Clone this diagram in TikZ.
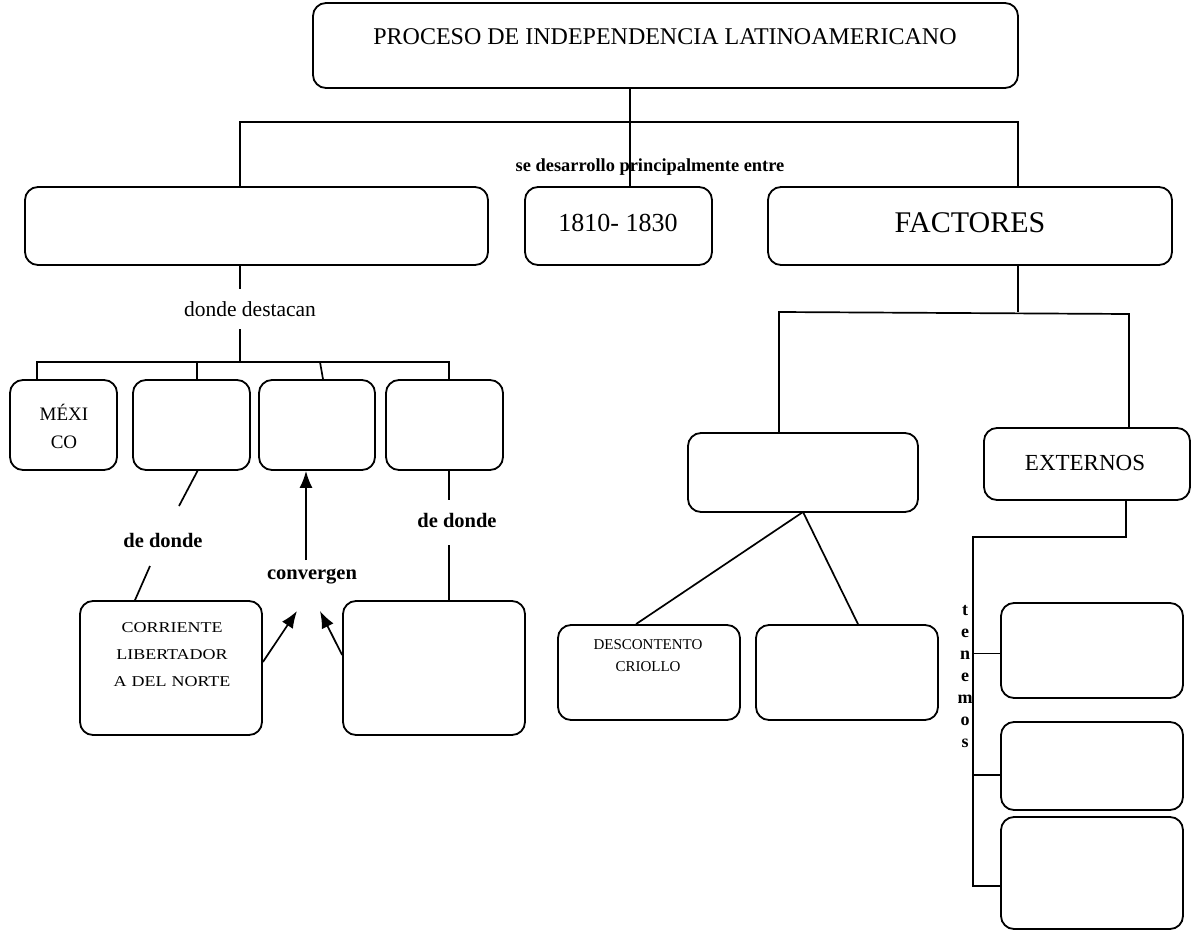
\documentclass[tikz,border=0pt]{standalone}
\usepackage{fontspec}
\setmainfont{Liberation Serif}
\newfontfamily\widefont[FakeStretch=1.2]{Liberation Serif}
\usetikzlibrary{arrows.meta}
\newcommand\bx[5]{\node[box, minimum width={#4-#2}, minimum height={#5-#3}] (#1) at ({(#2+#4)/2},{(#3+#5)/2}) {};}
\newcommand\fs[1]{\fontsize{#1}{#1}\selectfont}
\begin{document}
\begin{tikzpicture}[x=1pt,y=-1pt,
  box/.style={draw, line width=1.8pt, rounded corners=13pt, inner sep=0pt},
  ln/.style={line width=1.7pt},
  arr/.style={line width=1.7pt, -{Latex[length=17pt,width=13pt]}},
  txt/.style={inner sep=0pt, align=center},
  lbl/.style={inner sep=0pt, font=\bfseries\fs{20.5}}]
\useasboundingbox (0,0) rectangle (1191,931);

% boxes
\bx{top}{313}{3}{1018}{88}
\bx{lft}{25}{187}{488}{265}
\bx{yr}{525}{187}{712}{265}
\bx{fac}{768}{187}{1172}{265}
\bx{b1}{10}{380}{117}{470}
\bx{b2}{133}{380}{250}{470}
\bx{b3}{259}{380}{375}{470}
\bx{b4}{386}{380}{503}{470}
\bx{corr}{80}{601}{262}{735}
\bx{rb}{343}{601}{525}{735}
\bx{mid}{688}{433}{918}{512}
\bx{ext}{984}{428}{1190}{500}
\bx{desc}{558}{625}{740}{720}
\bx{rb2}{756}{625}{938}{720}
\bx{x1}{1001}{603}{1183}{698}
\bx{x2}{1001}{722}{1183}{810}
\bx{x3}{1001}{817}{1183}{929}

% texts
\node[txt, font=\fs{24}] (ttop) at (665,37) {PROCESO DE INDEPENDENCIA LATINOAMERICANO};
\node[txt, font=\fs{26}] (tyr) at (618,223) {1810- 1830};
\node[txt, font=\fs{30}] (tfac) at (970,223) {FACTORES};
\node[txt, font=\fs{23}] (text) at (1085,463) {EXTERNOS};
\node[txt, font=\fs{19}, text width=60pt, execute at begin node={\baselineskip=28pt}] (tmex) at (64,426) {MÉXI\\CO};
\node[txt, font=\widefont\fs{15}, text width=150pt, execute at begin node={\baselineskip=27pt}] (tcorr) at (172,655) {CORRIENTE\\LIBERTADOR\\A DEL NORTE};
\node[txt, font=\fs{15}, text width=150pt, execute at begin node={\baselineskip=22pt}] (tdesc) at (648,656) {DESCONTENTO\\CRIOLLO};
\node[lbl, font=\bfseries\fs{18.4}] (tdes) at (650,167) {se desarrollo principalmente entre};
\node[lbl, font=\fs{21.5}, minimum height=40pt] (tdd) at (250,309) {donde destacan};
\node[lbl] (tdd1) at (163,540) {de donde};
\node[lbl] (tdd2) at (457,520) {de donde};
\node[lbl] (tconv) at (312,576) {convergen};
\node[lbl, font=\bfseries\fs{18}, align=center, execute at begin node={\baselineskip=22pt}] (tten) at (965,677) {t\\e\\n\\e\\m\\o\\s};

% top connectors
\coordinate (hL) at (240,122);
\coordinate (hM) at (630,122);
\coordinate (hR) at (1018,122);
\draw[ln] (hL |- lft.north) -- (hL) -- (hR) -- (hR |- fac.north);
\draw[ln] (top.south -| hM) -- (hM |- yr.north);

% left branch
\coordinate (t0) at (240,362);
\draw[ln] (lft.south -| t0) -- (tdd.north -| t0);
\coordinate (t1) at (37,362);
\coordinate (t2) at (197,362);
\coordinate (t3) at (320,362);
\coordinate (t4) at (449,362);
\draw[ln] (tdd.south -| t0) -- (t0);
\draw[ln] (t1 |- b1.north) -- (t1) -- (t4) -- (t4 |- b4.north);
\draw[ln] (t2) -- (t2 |- b2.north);
\draw[ln] (t3) -- ([xshift=3pt]t3 |- b3.north);

\coordinate (d1a) at (179,506);
\coordinate (d1b) at (150,566);
\draw[ln] ([xshift=6pt]b2.south) -- (d1a);
\draw[ln] (d1b) -- ([xshift=-36pt]corr.north);

\coordinate (a3) at (306,560);
\draw[arr] (a3) -- (a3 |- b3.south);

\coordinate (d2a) at (449,500);
\coordinate (d2b) at (449,545);
\draw[ln] (d2a |- b4.south) -- (d2a);
\draw[ln] (d2b) -- (d2b |- rb.north);

\coordinate (cvL) at (297,611);
\coordinate (cvR) at (320,611);
\draw[arr] ([yshift=6pt]corr.east) -- (cvL);
\draw[arr] ([yshift=13pt]rb.west) -- (cvR);

% right branch
\coordinate (f0) at (1018,312);
\coordinate (fL) at (779,312);
\coordinate (fR) at (1129,314);
\draw[ln] (fac.south -| f0) -- (f0);
\draw[ln] (fL |- mid.north) -- (fL) -- (fR) -- (fR |- ext.north);

\coordinate (mb) at (803,512);
\draw[ln] (mb) -- ([xshift=-13pt]desc.north);
\draw[ln] (mb) -- ([xshift=11pt]rb2.north);

\coordinate (e0) at (1126,537);
\coordinate (e1) at (973,537);
\coordinate (e2) at (973,886);
\draw[ln] (e0 |- ext.south) -- (e0) -- (e1) -- (e2) -- (e2 -| x3.west);
\draw[ln] ([yshift=-3pt]x1.west -| e1) -- ([yshift=-3pt]x1.west);
\draw[ln] ([yshift=-9pt]x2.west -| e1) -- ([yshift=-9pt]x2.west);
\end{tikzpicture}
\end{document}
